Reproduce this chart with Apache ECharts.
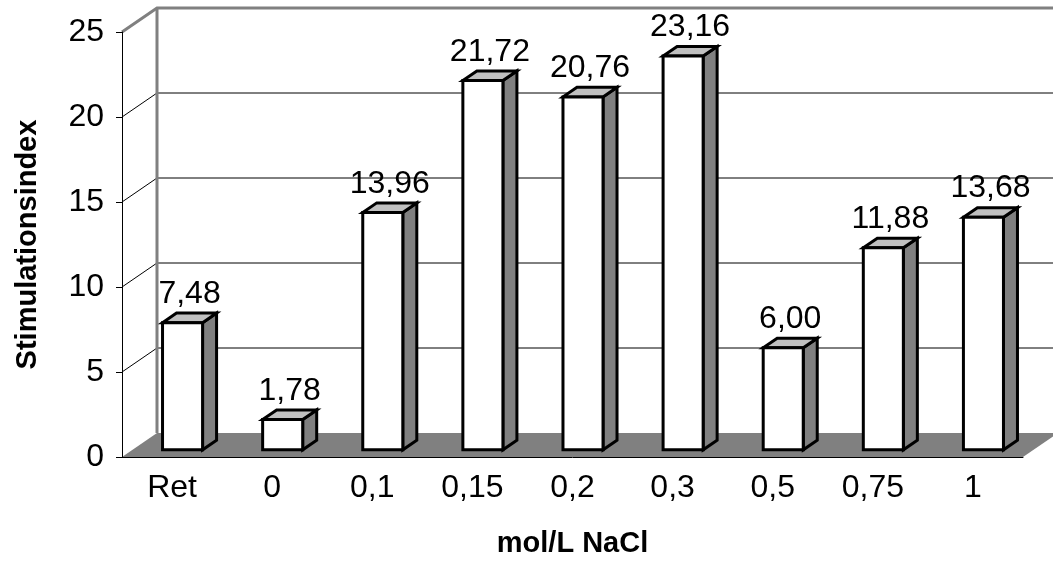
<!DOCTYPE html>
<html>
<head>
<meta charset="utf-8">
<script src="https://cdn.jsdelivr.net/npm/echarts@6/dist/echarts.min.js"></script>
<style>
  html, body { margin: 0; padding: 0; background: #fff; }
  #chart { width: 1053px; height: 563px; }
</style>
</head>
<body>
<div id="chart"></div>
<script>
// data
const categories = ["Ret", "0", "0,1", "0,15", "0,2", "0,3", "0,5", "0,75", "1"];
const values = [7.48, 1.78, 13.96, 21.72, 20.76, 23.16, 6.00, 11.88, 13.68];
const yTicks = [0, 5, 10, 15, 20, 25];

// fake 3d look (pixels of the full floor depth)
const DEPTH_X = 35;
const DEPTH_Y = 24;
const BAR_FRONT = 0.3;
const BAR_BACK = 0.7;
const FONT = '"Liberation Sans", Arial, sans-serif';

function fmt(v) {
  return v.toFixed(2).replace(".", ",");
}

const chart = echarts.init(document.getElementById("chart"));

function renderWall(params, api) {
  const v = api.value(1);
  const band = api.size([1, 0])[0];
  const p = api.coord([0, v]);
  const x0 = p[0] - band / 2;
  const xEnd = api.coord([categories.length - 1, v])[0] + band / 2;
  const y = p[1];
  const yZero = api.coord([0, 0])[1];
  const children = [];
  if (v === 0) {
    children.push({
      type: "polygon",
      shape: { points: [[x0, y], [xEnd, y], [xEnd + DEPTH_X, y - DEPTH_Y], [x0 + DEPTH_X, y - DEPTH_Y]] },
      style: { fill: "#808080" }
    });
  } else if (v === yTicks[yTicks.length - 1]) {
    children.push({
      type: "polyline",
      shape: { points: [[x0, y], [x0 + DEPTH_X, y - DEPTH_Y], [xEnd + DEPTH_X + 40, y - DEPTH_Y]] },
      style: { stroke: "#808080", lineWidth: 3, fill: null }
    });
    children.push({
      type: "line",
      shape: { x1: x0 + DEPTH_X, y1: y - DEPTH_Y, x2: x0 + DEPTH_X, y2: yZero - DEPTH_Y },
      style: { stroke: "#808080", lineWidth: 3 }
    });
  } else {
    children.push({
      type: "polyline",
      shape: { points: [[x0, y], [x0 + DEPTH_X, y - DEPTH_Y], [xEnd + DEPTH_X + 40, y - DEPTH_Y]] },
      style: { stroke: "#000", lineWidth: 1, fill: null }
    });
  }
  return { type: "group", children: children };
}

function renderBar(params, api) {
  const i = api.value(0);
  const v = api.value(1);
  const band = api.size([1, 0])[0];
  const base = api.coord([i, 0]);
  const top = api.coord([i, v]);
  const w = band * 0.4;
  const fx = DEPTH_X * BAR_FRONT, fy = DEPTH_Y * BAR_FRONT;
  const dx = DEPTH_X * (BAR_BACK - BAR_FRONT), dy = DEPTH_Y * (BAR_BACK - BAR_FRONT);
  const xl = base[0] - w / 2 + fx, xr = xl + w;
  const yb = base[1] - fy, yt = top[1] - fy;
  const edge = { stroke: "#000", lineWidth: 3, lineJoin: "miter" };
  return {
    type: "group",
    children: [
      {
        type: "polygon",
        shape: { points: [[xr, yb], [xr, yt], [xr + dx, yt - dy], [xr + dx, yb - dy]] },
        style: Object.assign({ fill: "#808080" }, edge)
      },
      {
        type: "polygon",
        shape: { points: [[xl, yt], [xr, yt], [xr + dx, yt - dy], [xl + dx, yt - dy]] },
        style: Object.assign({ fill: "#c0c0c0" }, edge)
      },
      {
        type: "rect",
        shape: { x: xl, y: yt, width: w, height: yb - yt },
        style: Object.assign({ fill: "#fff" }, edge)
      },
      {
        type: "text",
        style: {
          x: (xl + xr) / 2 + dx / 2,
          y: yt - dy - 3,
          text: fmt(v),
          fill: "#000",
          font: "32px " + FONT,
          align: "center",
          verticalAlign: "bottom"
        }
      }
    ]
  };
}

chart.setOption({
  animation: false,
  backgroundColor: "#fff",
  grid: { left: 122, right: 30, top: 32, bottom: 105 },
  xAxis: {
    type: "category",
    data: categories,
    boundaryGap: true,
    z: 10,
    axisLine: { lineStyle: { color: "#000", width: 1 } },
    axisTick: { interval: 0, length: 8, lineStyle: { color: "#000" } },
    axisLabel: { interval: 0, fontSize: 32, fontFamily: FONT, color: "#000", margin: 15 },
    name: "mol/L NaCl",
    nameLocation: "middle",
    nameGap: 72,
    nameTextStyle: { fontSize: 29, fontWeight: "bold", fontFamily: FONT, color: "#000" }
  },
  yAxis: {
    type: "value",
    min: 0,
    max: 25,
    interval: 5,
    z: 10,
    axisLine: { show: true, lineStyle: { color: "#000", width: 1 } },
    axisTick: { show: true, length: 6, lineStyle: { color: "#000" } },
    axisLabel: { fontSize: 32, fontFamily: FONT, color: "#000", margin: 18 },
    splitLine: { show: false },
    name: "Stimulationsindex",
    nameLocation: "middle",
    nameRotate: 90,
    nameGap: 80,
    nameTextStyle: { fontSize: 29, fontWeight: "bold", fontFamily: FONT, color: "#000" }
  },
  series: [
    {
      type: "custom",
      z: 1,
      clip: false,
      silent: true,
      renderItem: renderWall,
      encode: { x: 0, y: 1 },
      data: yTicks.map(v => [0, v])
    },
    {
      type: "custom",
      z: 3,
      clip: false,
      renderItem: renderBar,
      encode: { x: 0, y: 1 },
      data: values.map((v, i) => [i, v])
    }
  ]
});
</script>
</body>
</html>
